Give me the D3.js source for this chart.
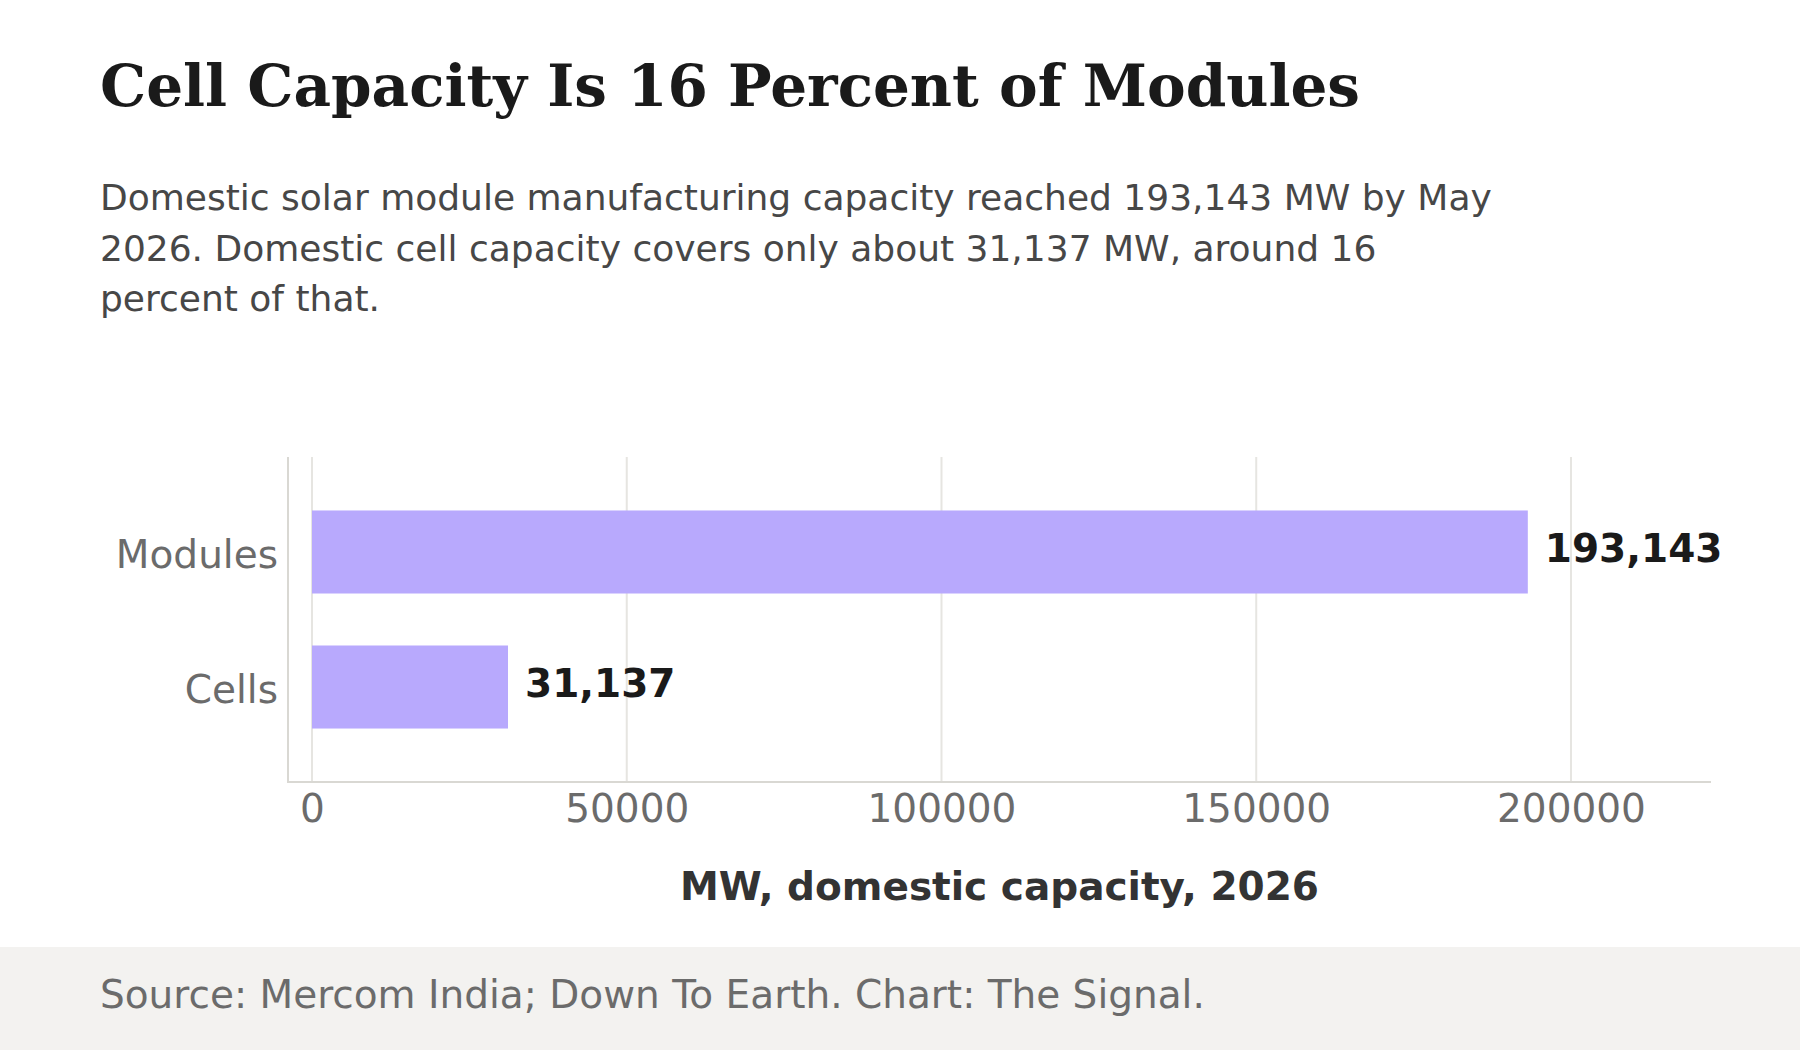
<!DOCTYPE html>
<html>
<head>
<meta charset="utf-8">
<script src="https://cdn.jsdelivr.net/npm/d3@7"></script>
<style>
    body { margin: 0; background: #fff; }
    svg { display: block; }
</style>
</head>
<body>
<div id="chart"></div>
<script>
// chart data
var categories = ["Modules", "Cells"];
var capacityMW = [193143, 31137];
var xTicks = [0, 50000, 100000, 150000, 200000];

var titleText = "Cell Capacity Is 16 Percent of Modules";
var subtitleLines = [
    "Domestic solar module manufacturing capacity reached 193,143 MW by May",
    "2026. Domestic cell capacity covers only about 31,137 MW, around 16",
    "percent of that."
];
var axisTitle = "MW, domestic capacity, 2026";
var sourceText = "Source: Mercom India; Down To Earth. Chart: The Signal.";

var data = categories.map(function(c, i) {
    return { key: c, value: capacityMW[i] };
});

var W = 1800, H = 1050;
var plot = { left: 288, right: 1711, top: 457, bottom: 782 };

var svg = d3.select("#chart").append("svg")
    .attr("width", W)
    .attr("height", H)
    .style("font-family", "'DejaVu Sans', sans-serif");

svg.append("rect")
    .attr("width", W)
    .attr("height", H)
    .attr("fill", "#fff");

// title + subtitle
svg.append("text")
    .attr("x", 100)
    .attr("y", 106)
    .style("font-family", "'DejaVu Serif', serif")
    .style("font-weight", "bold")
    .style("font-size", "58px")
    .attr("fill", "#1a1a1a")
    .text(titleText);

svg.append("g").selectAll("text")
    .data(subtitleLines)
    .enter().append("text")
    .attr("x", 100)
    .attr("y", function(d, i) { return 210 + i * 50.5; })
    .style("font-size", "36px")
    .attr("fill", "#474747")
    .text(function(d) { return d; });

// scales
var x = d3.scaleLinear()
    .domain([-3813, 222245])
    .range([plot.left, plot.right]);

var y = d3.scaleBand()
    .domain(categories)
    .range([plot.top, plot.bottom])
    .paddingInner(0.385)
    .paddingOuter(0.396);

// gridlines
svg.append("g").selectAll("line")
    .data(xTicks)
    .enter().append("line")
    .attr("x1", function(d) { return x(d); })
    .attr("x2", function(d) { return x(d); })
    .attr("y1", plot.top)
    .attr("y2", plot.bottom)
    .attr("stroke", "#e6e5e1")
    .attr("stroke-width", 2);

// bars
svg.append("g").selectAll("rect")
    .data(data)
    .enter().append("rect")
    .attr("x", x(0))
    .attr("y", function(d) { return y(d.key); })
    .attr("width", function(d) { return x(d.value) - x(0); })
    .attr("height", y.bandwidth())
    .attr("fill", "#b8a9fd");

// value labels
svg.append("g").selectAll("text")
    .data(data)
    .enter().append("text")
    .attr("x", function(d) { return x(d.value) + 17; })
    .attr("y", function(d) { return y(d.key) + y.bandwidth() / 2 + 10; })
    .style("font-size", "39px")
    .style("font-weight", "bold")
    .attr("fill", "#1a1a1a")
    .text(function(d) { return d3.format(",")(d.value); });

// axes
var xAxis = d3.axisBottom(x)
    .tickValues(xTicks)
    .tickFormat(d3.format("d"))
    .tickSize(0)
    .tickPadding(12);

var gx = svg.append("g")
    .attr("transform", "translate(0," + plot.bottom + ")")
    .call(xAxis);
gx.select(".domain").remove();
gx.selectAll("text")
    .style("font-family", "'DejaVu Sans', sans-serif")
    .style("font-size", "39px")
    .attr("fill", "#6b6b6b");

var yAxis = d3.axisLeft(y)
    .tickSize(0)
    .tickPadding(10);

var gy = svg.append("g")
    .attr("transform", "translate(" + plot.left + ",0)")
    .call(yAxis);
gy.select(".domain").remove();
gy.selectAll("text")
    .style("font-family", "'DejaVu Sans', sans-serif")
    .style("font-size", "39px")
    .attr("dy", "0.4em")
    .attr("fill", "#6b6b6b");

// axis lines (left + bottom)
svg.append("line")
    .attr("x1", plot.left).attr("x2", plot.left)
    .attr("y1", plot.top).attr("y2", plot.bottom)
    .attr("stroke", "#d9d8d3")
    .attr("stroke-width", 2);
svg.append("line")
    .attr("x1", plot.left - 1).attr("x2", plot.right)
    .attr("y1", plot.bottom).attr("y2", plot.bottom)
    .attr("stroke", "#d9d8d3")
    .attr("stroke-width", 2);

svg.append("text")
    .attr("x", (plot.left + plot.right) / 2)
    .attr("y", 900)
    .attr("text-anchor", "middle")
    .style("font-size", "39px")
    .style("font-weight", "bold")
    .attr("fill", "#333")
    .text(axisTitle);

// footer
svg.append("rect")
    .attr("x", 0)
    .attr("y", 947)
    .attr("width", W)
    .attr("height", H - 947)
    .attr("fill", "#f3f2f0");

svg.append("text")
    .attr("x", 100)
    .attr("y", 1008)
    .style("font-size", "39px")
    .attr("fill", "#6b6b6b")
    .text(sourceText);
</script>
</body>
</html>
